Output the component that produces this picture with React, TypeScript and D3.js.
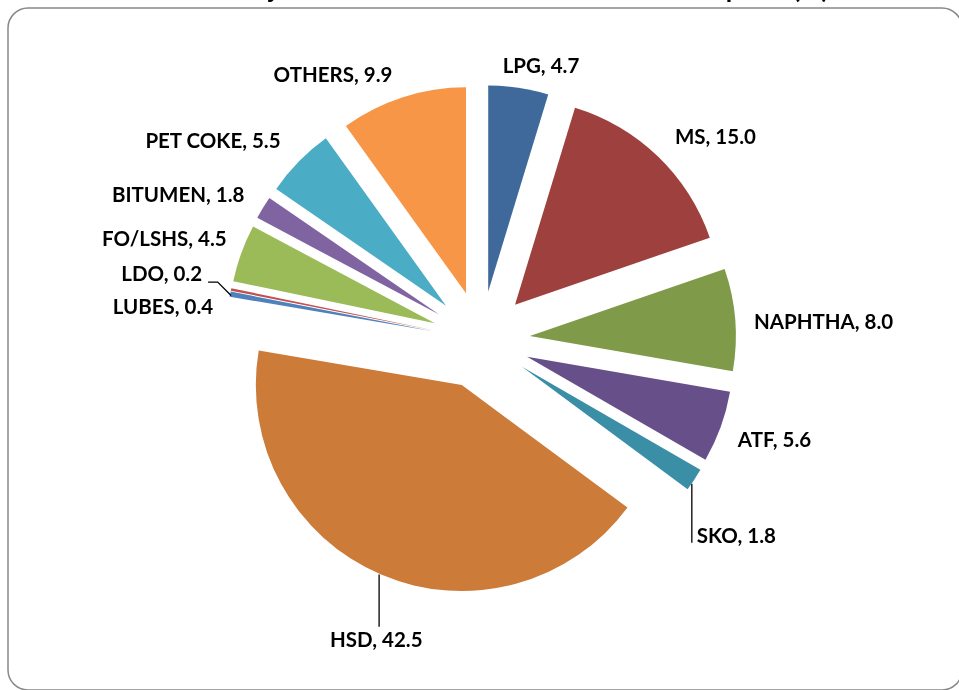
import React, { useRef, useEffect } from 'react';
import * as d3 from 'd3';

// product share of consumption (%), clockwise from 12 o'clock
const products = ['LPG', 'MS', 'NAPHTHA', 'ATF', 'SKO', 'HSD', 'LUBES', 'LDO', 'FO/LSHS', 'BITUMEN', 'PET COKE', 'OTHERS'];
const shares = [4.7, 15.0, 8.0, 5.6, 1.8, 42.5, 0.4, 0.2, 4.5, 1.8, 5.5, 9.9];
const colors = ['#3f699b', '#9d403e', '#7f9a48', '#674f89', '#3a8ea5', '#cc7b38', '#4f81bd', '#c0504d', '#9bbb59', '#8064a2', '#4bacc6', '#f79646'];

// hand-moved data labels (Excel drag offsets) and leader line kinds
const labelNudge: [number, number][] = [
  [15, 0], [21, -4], [7, 4], [8, 6], [-1, 44], [18, 45],
  [-6, 17], [-18, -11], [-7, -7], [-18, -1], [-29, -5], [-48, -1],
];
const leaderKind = ['', '', '', '', 'side', 'below', '', 'elbow', '', '', '', ''];

const W = 959;
const H = 690;

const App = () => {
  const svgRef = useRef<SVGSVGElement>(null);

  useEffect(() => {
    const svg = d3.select(svgRef.current);
    svg.selectAll('*').remove();

    svg.append('rect')
      .attr('x', 8).attr('y', 8)
      .attr('width', 954).attr('height', 682)
      .attr('rx', 20)
      .attr('fill', '#fff')
      .attr('stroke', '#888')
      .attr('stroke-width', 1.5);

    // title sits above the visible area, only descenders peek in
    svg.append('text')
      .attr('x', W / 2).attr('y', -2)
      .attr('text-anchor', 'middle')
      .style('font-family', 'Lato, sans-serif')
      .style('font-weight', 700)
      .style('font-size', '26px')
      .text('Share of Major Petroleum Products in Total Consumption (%)');

    const cx = 481, cy = 340, r = 206, explode = 49, gap = 12;

    const data = products.map((p, i) => ({ name: p, value: shares[i], i }));
    const pie = d3.pie<any>().sort(null).value((d) => d.value);
    const arcs = pie(data);
    const arc = d3.arc<any>().innerRadius(0).outerRadius(r);

    const g = svg.append('g').attr('transform', `translate(${cx},${cy})`);

    const mid = (a: any) => (a.startAngle + a.endAngle) / 2;

    g.selectAll('path.slice')
      .data(arcs)
      .join('path')
      .attr('class', 'slice')
      .attr('d', arc as any)
      .attr('fill', (d: any) => colors[d.data.i])
      .attr('transform', (d: any) => {
        const m = mid(d);
        return `translate(${explode * Math.sin(m)},${-explode * Math.cos(m)})`;
      });

    arcs.forEach((a: any) => {
      const i = a.data.i;
      const m = mid(a);
      const s = Math.sin(m), c = Math.cos(m);
      const R = r + explode + gap;
      const t = g.append('text')
        .style('font-family', 'Lato, sans-serif')
        .style('font-weight', 700)
        .style('font-size', '20.5px')
        .attr('fill', '#000')
        .attr('text-anchor', 'middle')
        .text(`${a.data.name}, ${a.data.value.toFixed(1)}`);
      const w = (t.node() as SVGTextElement).getComputedTextLength();
      const h = 20;
      const lx = R * s + (w / 2) * s + labelNudge[i][0];
      const ly = -R * c - (h / 2) * c + labelNudge[i][1];
      t.attr('x', lx).attr('y', ly + 7);

      const kind = leaderKind[i];
      if (!kind) return;
      // point on the exploded outer arc
      const px = (explode + r) * s;
      const py = -(explode + r) * c;
      let pts: [number, number][] = [];
      if (kind === 'side') {
        const x0 = lx - w / 2 - 5;
        pts = [[x0, py + 4], [x0, ly + 7]];
      } else if (kind === 'below') {
        pts = [[px - 2, py], [px - 2, ly - 13]];
      } else if (kind === 'elbow') {
        const yb = ly + 8;
        const xr = lx + w / 2 + 6;
        pts = [[px, py + 6], [px - (py + 6 - yb), yb], [xr, yb]];
      }
      g.append('path')
        .attr('d', d3.line()(pts))
        .attr('fill', 'none')
        .attr('stroke', '#000')
        .attr('stroke-width', 1.3);
    });
  }, []);

  return (
    <svg ref={svgRef} width={W} height={H}
      style={{ position: 'fixed', left: 0, top: 0, display: 'block' }} />
  );
};

export default App;
